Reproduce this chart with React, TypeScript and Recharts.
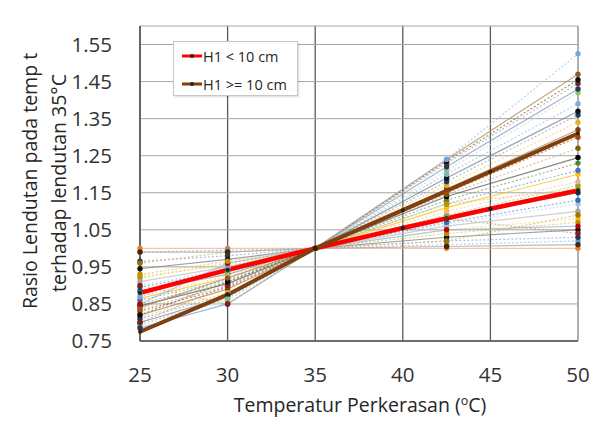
import React from 'react'
import { LineChart, Line, XAxis, YAxis, CartesianGrid, ReferenceLine } from 'recharts'

// measurement temperatures (°C)
const temps = [25, 30, 35, 42.5, 50]

// deflection ratio relative to 35°C, one row per test section
const sectionRatios: number[][] = [
  [1.0, 1.0, 1, 1.0, 1.0],
  [0.99, 0.995, 1, 1.01, 1.02],
  [0.965, 0.98, 1, 1.02, 1.03],
  [0.945, 0.97, 1, 1.03, 1.05],
  [0.925, 0.955, 1, 1.05, 1.08],
  [0.92, 0.96, 1, 1.04, 1.07],
  [0.91, 0.95, 1, 1.06, 1.1],
  [0.9, 0.945, 1, 1.065, 1.12],
  [0.895, 0.94, 1, 1.07, 1.13],
  [0.885, 0.93, 1, 1.08, 1.15],
  [0.88, 0.935, 1, 1.09, 1.17],
  [0.87, 0.925, 1, 1.1, 1.18],
  [0.865, 0.92, 1, 1.11, 1.2],
  [0.86, 0.915, 1, 1.12, 1.21],
  [0.85, 0.91, 1, 1.13, 1.23],
  [0.845, 0.905, 1, 1.14, 1.245],
  [0.835, 0.9, 1, 1.145, 1.27],
  [0.83, 0.895, 1, 1.15, 1.3],
  [0.82, 0.89, 1, 1.16, 1.32],
  [0.815, 0.88, 1, 1.17, 1.34],
  [0.81, 0.875, 1, 1.18, 1.36],
  [0.8, 0.87, 1, 1.19, 1.37],
  [0.795, 0.865, 1, 1.2, 1.39],
  [0.79, 0.86, 1, 1.21, 1.42],
  [0.785, 0.85, 1, 1.22, 1.43],
  [0.8, 0.9, 1, 1.23, 1.445],
  [0.82, 0.91, 1, 1.235, 1.455],
  [0.84, 0.92, 1, 1.24, 1.47],
  [0.87, 0.95, 1, 1.24, 1.525],
  [0.96, 0.99, 1, 1.02, 1.09],
  [0.85, 0.96, 1, 1.05, 1.06],
  [0.9, 0.85, 1, 1.08, 1.04],
  [0.93, 0.965, 1, 1.12, 1.16],
  [0.99, 0.99, 1, 1.005, 1.01],
]

// averages per group
const meanTemps = [25, 30, 35, 40, 45, 50]
const meanThin = [0.88, 0.942, 1.0, 1.055, 1.107, 1.156]
const meanThick = [0.775, 0.875, 1.0, 1.103, 1.207, 1.31]
const groupNames = ['H1 < 10 cm', 'H1 >= 10 cm']

const yTicks = [0.75, 0.85, 0.95, 1.05, 1.15, 1.25, 1.35, 1.45, 1.55, 1.6]
const xTicks = [25, 30, 35, 40, 45, 50]

// pale line colours and stronger marker colours, cycled over the sections
const lineColors = [
  '#F4B183', '#9DC3E6', '#8FAADC', '#7F7F7F', '#FFD966', '#E2C36A',
  '#BFBFBF', '#BDD7EE', '#5B9BD5', '#8497B0', '#A9D18E', '#F8CBAD',
  '#FFC000', '#6FA8DC', '#7AA95C', '#595959', '#C9B27C', '#C55A11',
  '#A68A64', '#FFD24D', '#8EA9DB', '#808080', '#9DC3E6', '#C5E0B4',
  '#7E9BD0', '#C9A27E', '#6E6E6E', '#B38B59', '#9DC3E6', '#D6B656',
  '#9CB8D9', '#C9A27E', '#E6C36A', '#A6A6A6',
]
const dotColors = [
  '#ED7D31', '#5B9BD5', '#203864', '#111111', '#FFC000', '#BF9000',
  '#A5A5A5', '#9DC3E6', '#2E75B6', '#1F2F5C', '#70AD47', '#F4B183',
  '#FFC000', '#4472C4', '#548235', '#000000', '#7F6000', '#9E480E',
  '#843C0C', '#E6B31E', '#203864', '#111111', '#7CAFDD', '#8CC168',
  '#1F3864', '#7B1F1F', '#0d0d0d', '#8B5A2B', '#6FA8DC', '#997300',
  '#C00000', '#8B1A1A', '#BF9000', '#4d2600',
]

const font = '"Open Sans", sans-serif'

const toPoints = (xs: number[], ys: number[]) => xs.map((t, i) => ({ t, v: ys[i] }))

function YTitle() {
  return (
    <g fill="#262626" fontFamily={font} fontSize={19.5}>
      <text transform="translate(37,181) rotate(-90)" textAnchor="middle">
        Rasio Lendutan pada temp t
      </text>
      <text transform="translate(66,183) rotate(-90)" textAnchor="middle">
        terhadap lendutan 35°C
      </text>
    </g>
  )
}

function XTitle() {
  return (
    <text x={360} y={412} textAnchor="middle" fill="#262626" fontFamily={font} fontSize={19.5}>
      Temperatur Perkerasan (
      <tspan fontSize={12.5} dy={-7}>o</tspan>
      <tspan dy={7}>C)</tspan>
    </text>
  )
}

function LegendBox() {
  const colors = ['#FF0000', '#7F3F10']
  return (
    <div
      style={{
        position: 'absolute',
        left: 173,
        top: 41,
        width: 123,
        height: 53,
        background: '#fff',
        border: '1px solid #c8c8c8',
        boxShadow: '1px 1px 2px rgba(0,0,0,0.15)',
        fontFamily: font,
        fontSize: 14.5,
        color: '#262626',
      }}
    >
      {groupNames.map((name, i) => (
        <div
          key={name}
          style={{ position: 'absolute', left: 8, top: 4 + i * 28, display: 'flex', alignItems: 'center', height: 20, whiteSpace: 'nowrap' }}
        >
          <svg width={20} height={8} style={{ marginRight: 1 }}>
            <line x1={0} y1={4} x2={20} y2={4} stroke={colors[i]} strokeWidth={3} />
            <circle cx={10} cy={4} r={2} fill="#222" />
          </svg>
          <span>{name}</span>
        </div>
      ))}
    </div>
  )
}

export default function App() {
  return (
    <div style={{ position: 'absolute', left: 0, top: 0, width: 616, height: 429, background: '#fff' }}>
      <LineChart width={616} height={429} margin={{ top: 26, right: 38, bottom: 58, left: 0 }}>
        <CartesianGrid horizontal={false} stroke="#5a5a5a" strokeWidth={1.3} />
        <CartesianGrid vertical={false} stroke="#a6a6a6" strokeWidth={1} />
        <ReferenceLine x={50} stroke="#b0b0b0" strokeWidth={2} />
        <XAxis
          type="number"
          dataKey="t"
          domain={[25, 50]}
          ticks={xTicks}
          height={30}
          tickLine={false}
          axisLine={{ stroke: '#4d4d4d', strokeWidth: 1.3 }}
          tickMargin={20}
          tick={{ fill: '#333', fontFamily: font, fontSize: 20.5 }}
          label={{ content: () => <XTitle /> }}
        />
        <YAxis
          type="number"
          domain={[0.75, 1.6]}
          ticks={yTicks}
          width={140}
          tickLine={false}
          axisLine={{ stroke: '#4d4d4d', strokeWidth: 1.3 }}
          tickMargin={22}
          tickFormatter={(v: number) => (v > 1.56 ? '' : v.toFixed(2))}
          tick={{ fill: '#333', fontFamily: font, fontSize: 20.5 }}
          label={{ content: () => <YTitle /> }}
        />
        {sectionRatios.map((row, i) => (
          <Line
            key={i}
            data={toPoints(temps, row)}
            dataKey="v"
            stroke={lineColors[i % lineColors.length]}
            strokeWidth={1.2}
            strokeOpacity={0.75}
            strokeDasharray={i % 3 === 0 ? undefined : '2 2'}
            dot={{ r: 2.7, fill: dotColors[i % dotColors.length], stroke: 'none' }}
            activeDot={false}
            isAnimationActive={false}
          />
        ))}
        <Line
          data={toPoints(meanTemps, meanThin)}
          dataKey="v"
          stroke="#FF0000"
          strokeWidth={4.5}
          dot={{ r: 2.2, fill: '#222', stroke: 'none' }}
          activeDot={false}
          isAnimationActive={false}
        />
        <Line
          data={toPoints(meanTemps, meanThick)}
          dataKey="v"
          stroke="#7F3F10"
          strokeWidth={4}
          dot={{ r: 2, fill: '#3a1d05', stroke: 'none' }}
          activeDot={false}
          isAnimationActive={false}
        />
      </LineChart>
      <LegendBox />
    </div>
  )
}
